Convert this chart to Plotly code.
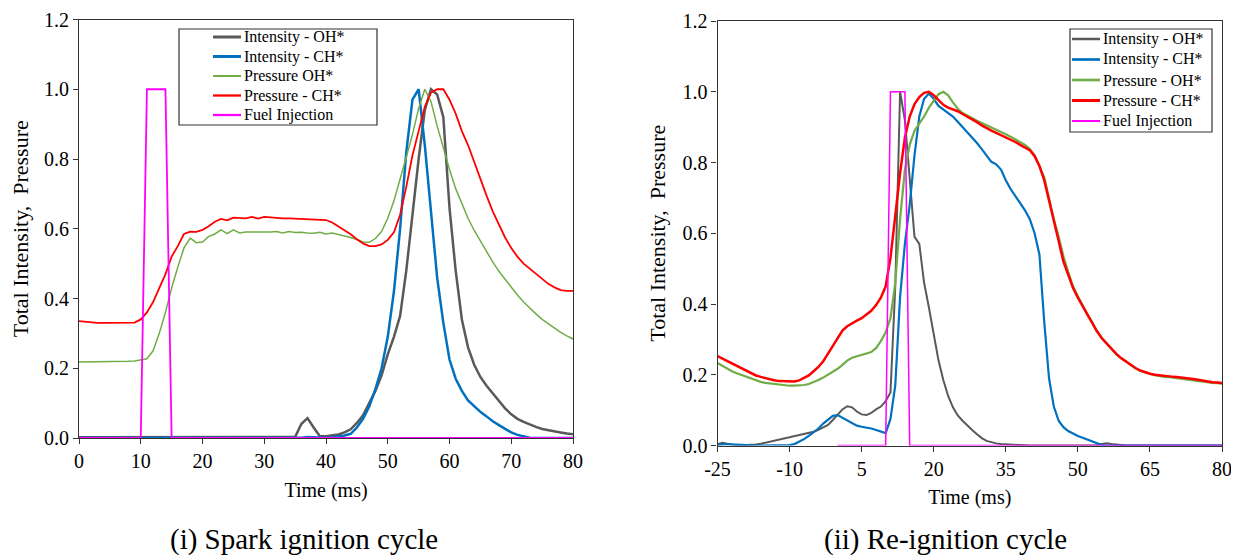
import plotly.graph_objects as go

# ---- (i) spark ignition cycle, sampled every 1 ms ----
t_spark = list(range(0, 81))

spark_int_oh = [
    0.002, 0.002, 0.001, 0.002, 0.002, 0.001, 0.002, 0.002, 0.002, 0.002,
    0.002, 0.001, 0.002, 0.002, 0.001, 0.002, 0.002, 0.001, 0.002, 0.002,
    0.002, 0.002, 0.001, 0.002, 0.002, 0.002, 0.001, 0.002, 0.002, 0.002,
    0.002, 0.002, 0.002, 0.002, 0.002, 0.003, 0.04, 0.057, 0.03, 0.005,
    0.005, 0.008, 0.01, 0.016, 0.025, 0.043, 0.065, 0.1, 0.135, 0.18,
    0.24, 0.29, 0.35, 0.48, 0.65, 0.8, 0.94, 1.0, 0.985, 0.92,
    0.66, 0.48, 0.34, 0.26, 0.21, 0.175, 0.15, 0.128, 0.105, 0.085,
    0.068, 0.055, 0.046, 0.038, 0.032, 0.026, 0.022, 0.019, 0.016, 0.013,
    0.011]
spark_int_ch = [
    0, 0, 0, 0, 0, 0, 0, 0, 0, 0,
    0, 0, 0, 0, 0, 0, 0, 0, 0, 0,
    0, 0, 0, 0, 0, 0, 0, 0, 0, 0,
    0, 0, 0, 0, 0, 0, 0.001, 0.003, 0.002, 0,
    0.001, 0.002, 0.004, 0.007, 0.012, 0.03, 0.055, 0.09, 0.14, 0.2,
    0.29, 0.42, 0.6, 0.82, 0.97, 1.0, 0.84, 0.64, 0.46, 0.33,
    0.225, 0.17, 0.135, 0.108, 0.09, 0.075, 0.062, 0.048, 0.037, 0.027,
    0.016, 0.009, 0.004, 0.001, 0, 0, 0, 0, 0, 0,
    0]
spark_p_oh = [
    0.218, 0.218, 0.218, 0.218, 0.219, 0.219, 0.218, 0.219, 0.22, 0.221,
    0.224, 0.227, 0.25, 0.3, 0.36, 0.43, 0.49, 0.545, 0.573, 0.56,
    0.562, 0.578, 0.585, 0.597, 0.586, 0.597, 0.588, 0.591, 0.591, 0.59,
    0.591, 0.591, 0.592, 0.588, 0.592, 0.589, 0.59, 0.588, 0.587, 0.59,
    0.585, 0.588, 0.584, 0.58, 0.575, 0.569, 0.562, 0.561, 0.572, 0.592,
    0.63, 0.68, 0.74, 0.805, 0.87, 0.945, 1.0, 0.965, 0.895, 0.83,
    0.77, 0.715, 0.67, 0.63, 0.595, 0.564, 0.535, 0.505, 0.478, 0.455,
    0.43, 0.41, 0.39, 0.372, 0.356, 0.34, 0.327, 0.314, 0.303, 0.293,
    0.284]
spark_p_ch = [
    0.335, 0.333, 0.331, 0.33, 0.33, 0.33, 0.33, 0.33, 0.33, 0.331,
    0.34, 0.36, 0.39, 0.43, 0.47, 0.52, 0.55, 0.585, 0.592, 0.591,
    0.597, 0.607, 0.62, 0.628, 0.624, 0.632, 0.631, 0.63, 0.634, 0.629,
    0.634, 0.632, 0.632, 0.63, 0.63, 0.629, 0.628, 0.629, 0.626, 0.627,
    0.625, 0.618, 0.607, 0.596, 0.584, 0.57, 0.558, 0.55, 0.55, 0.555,
    0.568, 0.59, 0.64, 0.72, 0.81, 0.88, 0.95, 0.99, 1.0, 1.0,
    0.97, 0.93, 0.88, 0.84, 0.79, 0.744, 0.695, 0.65, 0.61, 0.575,
    0.545, 0.52, 0.5, 0.485, 0.47, 0.455, 0.442, 0.432, 0.424, 0.422,
    0.422]

# fuel injection pulse (same in both cycles)
fuel_t = [0, 10, 11, 14, 15, 80]
fuel_v = [0, 0, 1, 1, 0, 0]

# ---- (ii) re-ignition cycle, sampled every 1 ms ----
t_reig = list(range(-25, 81))
reig_ticks = [-25, -10, 5, 20, 35, 50, 65, 80]

reig_int_oh = [
    0.004, 0.008, 0.005, 0.002, 0.001, 0.001, 0.001, 0.002, 0.003, 0.005,
    0.008, 0.011, 0.014, 0.017, 0.02, 0.023, 0.027, 0.031, 0.034, 0.036,
    0.039, 0.044, 0.05, 0.058, 0.072, 0.088, 0.102, 0.111, 0.108, 0.096,
    0.088, 0.086, 0.092, 0.102, 0.11, 0.125, 0.15, 0.45, 1.0, 0.92,
    0.76, 0.59, 0.57, 0.46, 0.39, 0.32, 0.24, 0.185, 0.14, 0.108,
    0.085, 0.07, 0.056, 0.044, 0.032, 0.021, 0.013, 0.009, 0.006, 0.004,
    0.003, 0.002, 0.002, 0.001, 0.001, 0, 0, 0, 0, 0,
    0, 0, 0, 0, 0, 0, 0, 0, 0, 0.001,
    0.004, 0.006, 0.004, 0.002, 0.001, 0, 0, 0, 0, 0,
    0, 0, 0, 0, 0, 0, 0, 0, 0, 0,
    0, 0, 0, 0, 0, 0]
reig_int_ch = [
    0.002, 0.004, 0.004, 0.003, 0.002, 0.001, 0, 0, 0, 0,
    0, 0, 0, 0, 0, 0.001, 0.004, 0.01, 0.018, 0.027,
    0.037, 0.048, 0.062, 0.074, 0.084, 0.086, 0.078, 0.07, 0.063, 0.056,
    0.053, 0.051, 0.048, 0.044, 0.04, 0.035, 0.075, 0.17, 0.42, 0.57,
    0.68, 0.82, 0.93, 0.98, 0.995, 0.98, 0.96, 0.95, 0.94, 0.93,
    0.915, 0.9, 0.888, 0.87, 0.855, 0.838, 0.82, 0.802, 0.795, 0.78,
    0.75, 0.725, 0.705, 0.685, 0.665, 0.64, 0.6, 0.54, 0.35, 0.19,
    0.11, 0.07, 0.052, 0.041, 0.033, 0.027, 0.022, 0.017, 0.012, 0.005,
    0.001, 0, 0, 0, 0, 0, 0, 0, 0, 0,
    0, 0, 0, 0, 0, 0, 0, 0, 0, 0,
    0, 0, 0, 0, 0, 0]
reig_p_oh = [
    0.233, 0.225, 0.217, 0.21, 0.204, 0.199, 0.193, 0.188, 0.184, 0.18,
    0.177, 0.175, 0.173, 0.171, 0.17, 0.169, 0.169, 0.169, 0.171, 0.174,
    0.179, 0.185, 0.192, 0.2, 0.208, 0.217, 0.228, 0.24, 0.248, 0.252,
    0.255, 0.258, 0.264, 0.275, 0.295, 0.32, 0.36, 0.46, 0.64, 0.78,
    0.85, 0.89, 0.91, 0.93, 0.955, 0.975, 0.993, 1.0, 0.99, 0.97,
    0.952, 0.94, 0.932, 0.925, 0.918, 0.912, 0.906, 0.9, 0.894, 0.887,
    0.88, 0.873, 0.866, 0.859, 0.85, 0.838, 0.82, 0.79, 0.758, 0.7,
    0.64, 0.59, 0.535, 0.49, 0.45, 0.422, 0.395, 0.37, 0.348, 0.323,
    0.303, 0.287, 0.272, 0.258, 0.246, 0.236, 0.226, 0.218, 0.211, 0.206,
    0.202, 0.199, 0.196, 0.194, 0.193, 0.191, 0.19, 0.189, 0.187, 0.185,
    0.183, 0.181, 0.179, 0.177, 0.176, 0.175]
reig_p_ch = [
    0.253, 0.246, 0.239, 0.232, 0.225, 0.218, 0.211, 0.204, 0.198, 0.194,
    0.19, 0.186, 0.184, 0.182, 0.181, 0.181, 0.181, 0.184, 0.19, 0.198,
    0.21, 0.222, 0.238, 0.26, 0.283, 0.305, 0.325, 0.337, 0.346, 0.353,
    0.36, 0.37, 0.381, 0.397, 0.418, 0.45, 0.53, 0.65, 0.77, 0.87,
    0.93, 0.965, 0.985, 0.997, 1.0, 0.99, 0.975, 0.963, 0.955, 0.95,
    0.945, 0.937, 0.93, 0.922, 0.914, 0.905, 0.897, 0.89, 0.884, 0.878,
    0.872, 0.866, 0.858, 0.85, 0.843, 0.835, 0.818, 0.79, 0.75, 0.695,
    0.635, 0.578, 0.52, 0.48, 0.445, 0.418, 0.393, 0.368, 0.346, 0.322,
    0.303, 0.288, 0.273, 0.259, 0.247, 0.237, 0.227, 0.219, 0.212, 0.207,
    0.203, 0.2, 0.198, 0.196, 0.195, 0.194, 0.193, 0.192, 0.19, 0.188,
    0.186, 0.183, 0.181, 0.179, 0.178, 0.177]

# page body has an 8px margin, so the figure is shifted by OFF in the screenshot
OFF = 8
W, H = 1239 - OFF, 556 - OFF
FONT = "Liberation Serif"
GRAY, BLUE, GREEN, RED, MAGENTA = "#595959", "#0070C0", "#70AD47", "#FF0000", "#FF00FF"
BOX = "#333333"


def px_x(p):
    # screen pixel -> paper fraction
    return (p - OFF) / W


def px_y(p):
    return 1 - (p - OFF) / H


fig = go.Figure()

# (name, x, y, colour, line width) per panel
left_series = [
    ("Intensity - OH*", t_spark, spark_int_oh, GRAY, 2.5),
    ("Intensity - CH*", t_spark, spark_int_ch, BLUE, 2.5),
    ("Pressure OH*", t_spark, spark_p_oh, GREEN, 1.5),
    ("Pressure - CH*", t_spark, spark_p_ch, RED, 1.8),
    ("Fuel Injection", fuel_t, fuel_v, MAGENTA, 1.8),
]
right_series = [
    ("Intensity - OH*", t_reig, reig_int_oh, GRAY, 2),
    ("Intensity - CH*", t_reig, reig_int_ch, BLUE, 2.2),
    ("Pressure - OH*", t_reig, reig_p_oh, GREEN, 2.2),
    ("Pressure - CH*", t_reig, reig_p_ch, RED, 2.5),
    ("Fuel Injection", fuel_t, fuel_v, MAGENTA, 1.5),
]

for series, xa, ya in [(left_series, "x", "y"), (right_series, "x2", "y2")]:
    for name, x, y, col, w in series:
        fig.add_trace(go.Scatter(x=x, y=y, mode="lines", name=name,
                                 line=dict(color=col, width=w),
                                 xaxis=xa, yaxis=ya, showlegend=False))

# hand-drawn legends (plotly's legend rows are too tall for this layout)
shapes = []
annotations = []
legend_boxes = [
    # box (x0, y0, x1, y1), sample line x0/x1, text x, row centres
    (left_series, (179, 29, 377, 125), (213, 241), 242, [37, 56.5, 76, 95.5, 115]),
    (right_series, (1070, 29, 1212, 132), (1072, 1100), 1101, [39, 59.5, 80, 100.5, 121]),
]
for series, (bx0, by0, bx1, by1), (lx0, lx1), tx, rows in legend_boxes:
    shapes.append(dict(type="rect", xref="paper", yref="paper",
                       x0=px_x(bx0), x1=px_x(bx1), y0=px_y(by1), y1=px_y(by0),
                       line=dict(color=BOX, width=1.2), fillcolor="white", layer="above"))
    for (name, _, _, col, w), ry in zip(series, rows):
        shapes.append(dict(type="line", xref="paper", yref="paper",
                           x0=px_x(lx0), x1=px_x(lx1), y0=px_y(ry), y1=px_y(ry),
                           line=dict(color=col, width=w + 0.5), layer="above"))
        annotations.append(dict(text=name, xref="paper", yref="paper",
                                x=px_x(tx), y=px_y(ry), xanchor="left", yanchor="middle",
                                showarrow=False, font=dict(family=FONT, size=16, color="black")))

annotations += [
    dict(text="(i) Spark ignition cycle", xref="paper", yref="paper",
         x=px_x(304), y=px_y(539), xanchor="center", yanchor="middle",
         showarrow=False, font=dict(family=FONT, size=29, color="black")),
    dict(text="(ii) Re-ignition cycle", xref="paper", yref="paper",
         x=px_x(945), y=px_y(539), xanchor="center", yanchor="middle",
         showarrow=False, font=dict(family=FONT, size=29, color="black")),
]

axis_common = dict(showline=True, mirror=True, linecolor=BOX, linewidth=1.2,
                   ticks="outside", ticklen=5, tickcolor=BOX, showgrid=False,
                   zeroline=False, automargin=False, ticklabeloverflow="allow",
                   tickfont=dict(family=FONT, size=20, color="black"))
ytitle = dict(text="Total Intensity,&nbsp; Pressure", font=dict(size=22), standoff=10)
xtitle = dict(text="Time (ms)", font=dict(size=20), standoff=11)

fig.update_layout(
    width=W, height=H,
    margin=dict(l=0, r=0, t=0, b=0, pad=0, autoexpand=False),
    paper_bgcolor="white", plot_bgcolor="white",
    font=dict(family=FONT, color="black"),
    showlegend=False,
    xaxis=dict(domain=[px_x(79), px_x(573)], range=[0, 80], dtick=10, anchor="y",
               title=xtitle, **axis_common),
    yaxis=dict(domain=[px_y(438), px_y(19.5)], range=[0, 1.2], dtick=0.2, tickformat=".1f",
               anchor="x", title=ytitle, **axis_common),
    xaxis2=dict(domain=[px_x(717.5), px_x(1222)], range=[-25, 80], anchor="y2",
                tickvals=reig_ticks, ticktext=[str(v) for v in reig_ticks],
                title=xtitle, **axis_common),
    yaxis2=dict(domain=[px_y(445.5), px_y(21)], range=[0, 1.2], dtick=0.2, tickformat=".1f",
                anchor="x2", title=ytitle, **axis_common),
    shapes=shapes,
    annotations=annotations,
)

fig.write_html("out.html")
